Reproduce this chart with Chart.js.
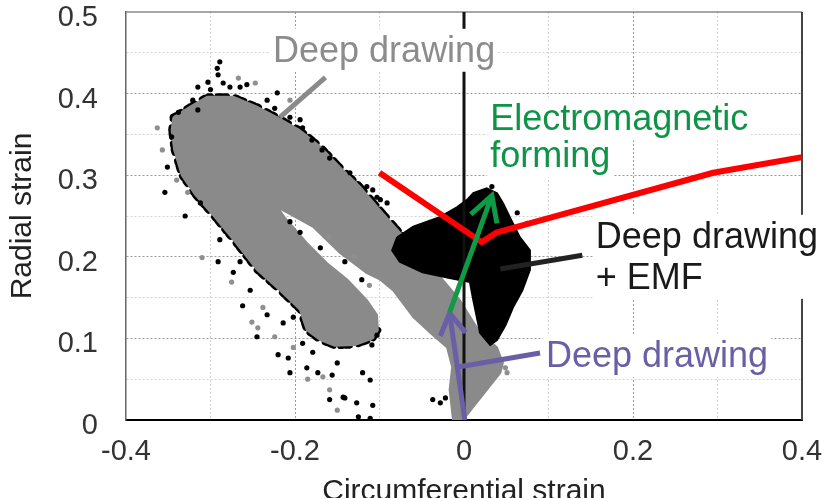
<!DOCTYPE html>
<html>
<head>
<meta charset="utf-8">
<script src="https://cdn.jsdelivr.net/npm/chart.js@4.4.1/dist/chart.umd.min.js"></script>
<style>
  html, body { margin: 0; padding: 0; background: #fff; }
  #wrap { width: 825px; height: 498px; }
</style>
</head>
<body>
<div id="wrap"><canvas id="chartStrain"></canvas></div>
<script>
// Radial vs circumferential strain: deep drawing (gray) and deep drawing + EMF (black)

// ticks
const xTickLabels = ['-0.4', '', '-0.2', '', '0', '', '0.2', '', '0.4'];
const yTickLabels = ['0', '', '0.1', '', '0.2', '', '0.3', '', '0.4', '', '0.5'];

// outline of the deep drawing point cloud (gray)
const grayCloudOutline = [
  [-0.344, 0.371], [-0.324, 0.384], [-0.304, 0.396], [-0.273, 0.396], [-0.245, 0.384],
  [-0.221, 0.371], [-0.194, 0.355], [-0.170, 0.335], [-0.147, 0.310], [-0.123, 0.286],
  [-0.099, 0.257], [-0.076, 0.230], [-0.040, 0.190], [-0.005, 0.147], [0.019, 0.107],
  [0.039, 0.089], [0.046, 0.070], [0.043, 0.058], [0.027, 0.037], [0.011, 0.016],
  [-0.001, 0.000], [-0.013, 0.000], [-0.017, 0.037], [-0.014, 0.065], [-0.020, 0.089],
  [-0.040, 0.107], [-0.060, 0.126], [-0.084, 0.159], [-0.099, 0.172], [-0.115, 0.180],
  [-0.147, 0.205], [-0.179, 0.237], [-0.221, 0.261], [-0.212, 0.248], [-0.186, 0.217],
  [-0.162, 0.192], [-0.138, 0.172], [-0.115, 0.147], [-0.103, 0.129], [-0.102, 0.110],
  [-0.108, 0.100], [-0.129, 0.092], [-0.153, 0.091], [-0.170, 0.098], [-0.186, 0.110],
  [-0.194, 0.135], [-0.218, 0.159], [-0.245, 0.184], [-0.273, 0.221], [-0.297, 0.251],
  [-0.318, 0.276], [-0.334, 0.300], [-0.343, 0.331], [-0.346, 0.355], [-0.344, 0.371]
];

// outline of the deep drawing + EMF cloud (black)
const emfCloudOutline = [
  [-0.079, 0.224], [-0.060, 0.237], [-0.028, 0.249], [-0.008, 0.261], [0.004, 0.270],
  [0.011, 0.278], [0.027, 0.284], [0.039, 0.278], [0.046, 0.266], [0.054, 0.249],
  [0.066, 0.224], [0.078, 0.208], [0.078, 0.184], [0.069, 0.159], [0.058, 0.138],
  [0.049, 0.116], [0.039, 0.098], [0.031, 0.092], [0.019, 0.107], [0.011, 0.147],
  [0.007, 0.169], [-0.017, 0.174], [-0.049, 0.181], [-0.076, 0.194], [-0.085, 0.208],
  [-0.079, 0.224]
];

// edges of the gray cloud where black points stick out from under it
const emfFringeUpper = grayCloudOutline.slice(0, 13);
const emfFringeLower = grayCloudOutline.slice(39, 55);

// scattered points around the clouds
const emfDots = [
  [-0.289, 0.439], [-0.292, 0.431], [-0.291, 0.423], [-0.303, 0.414], [-0.285, 0.413],
  [-0.315, 0.408], [-0.277, 0.408], [-0.265, 0.408], [-0.257, 0.411], [-0.221, 0.401],
  [-0.233, 0.392], [-0.321, 0.392], [-0.224, 0.382], [-0.338, 0.377], [-0.346, 0.347],
  [-0.351, 0.310], [-0.354, 0.279], [-0.194, 0.368], [-0.191, 0.358], [-0.168, 0.331],
  [-0.206, 0.371], [-0.312, 0.266], [-0.289, 0.221], [-0.291, 0.194], [-0.273, 0.181],
  [-0.253, 0.159], [-0.233, 0.129], [-0.245, 0.102], [-0.220, 0.080], [-0.208, 0.076],
  [-0.206, 0.058], [-0.186, 0.064], [-0.173, 0.058], [-0.159, 0.025], [-0.141, 0.027],
  [-0.156, 0.055], [-0.179, 0.083], [-0.191, 0.094], [-0.214, 0.119], [-0.202, 0.126],
  [-0.265, 0.194], [-0.125, 0.004], [-0.111, 0.002], [-0.127, 0.021], [-0.108, 0.018],
  [-0.143, 0.028], [-0.120, 0.058], [-0.111, 0.049], [-0.108, 0.282], [-0.103, 0.273],
  [-0.115, 0.286], [-0.091, 0.266], [-0.135, 0.303], [-0.099, 0.270], [0.033, 0.286],
  [0.063, 0.254], [0.075, 0.241], [-0.037, 0.025], [-0.028, 0.021], [-0.022, 0.027],
  [-0.194, 0.230], [-0.170, 0.211], [-0.141, 0.194], [-0.121, 0.172], [-0.206, 0.243],
  [-0.103, 0.104], [-0.109, 0.092], [-0.159, 0.321], [-0.180, 0.343], [-0.330, 0.250],
  [-0.262, 0.140], [-0.150, 0.070], [-0.315, 0.380], [-0.300, 0.405]
];
const grayDots = [
  [-0.363, 0.358], [-0.357, 0.331], [-0.247, 0.413], [-0.267, 0.419], [-0.327, 0.279],
  [-0.340, 0.294], [-0.310, 0.199], [-0.275, 0.169], [-0.251, 0.120], [-0.244, 0.113],
  [-0.238, 0.138], [-0.224, 0.102], [-0.202, 0.089], [-0.159, 0.037], [-0.167, 0.053],
  [0.051, 0.058], [0.049, 0.064], [-0.206, 0.392], [-0.160, 0.225], [-0.130, 0.200],
  [-0.112, 0.165], [-0.185, 0.050], [-0.150, 0.012]
];

// forming limit line (red)
const limitCurve = [[-0.100, 0.303], [0.021, 0.218], [0.039, 0.230], [0.295, 0.303], [0.400, 0.322]];

// x = 0 line
const zeroLine = [[0, 0], [0, 0.5]];

// annotation arrows and pointers
const emfArrow = [[-0.017, 0.132], [0.033, 0.275]];
const emfArrowHead = [[0.008, 0.252], [0.033, 0.275], [0.039, 0.241]];
const ddArrow = [[0.001, 0.000], [-0.017, 0.131]];
const ddArrowHead = [[-0.028, 0.103], [-0.017, 0.131], [0.002, 0.107]];
const ddPointer = [[-0.007, 0.065], [0.090, 0.082]];
const grayPointer = [[-0.164, 0.420], [-0.218, 0.371]];
const blackPointer = [[0.043, 0.185], [0.140, 0.202]];

const toXY = arr => arr.map(p => ({ x: p[0], y: p[1] }));

const GRAY = '#8a8a8a';
const FONT = "'Liberation Sans', Arial, sans-serif";

const annotations = [
  { lines: ['Deep drawing'], x: -0.226, y: 0.439, color: '#8c8c8c', gap: 0, box: 'block' },
  { lines: ['Electromagnetic', 'forming'], x: 0.031, y: 0.355, color: '#0f9447', gap: 37, box: 'line' },
  { lines: ['Deep drawing', '+ EMF'], x: 0.156, y: 0.211, color: '#1a1a1a', gap: 41, box: 'block' },
  { lines: ['Deep drawing'], x: 0.097, y: 0.065, color: '#6a5fa6', gap: 0, box: 'block' }
];

function lineSet(data, color, width, order, extra) {
  return Object.assign({
    type: 'line',
    data: toXY(data),
    borderColor: color,
    backgroundColor: color,
    borderWidth: width,
    pointRadius: 0,
    fill: false,
    tension: 0,
    order: order
  }, extra || {});
}

// marco superior y derecho del área de trazado
const framePlugin = {
  id: 'frame',
  beforeDatasetsDraw(chart) {
    const { ctx, chartArea: a } = chart;
    ctx.save();
    ctx.strokeStyle = '#8a8a8a';
    ctx.lineWidth = 1.5;
    ctx.beginPath();
    ctx.moveTo(a.left, a.top);
    ctx.lineTo(a.right, a.top);
    ctx.stroke();
    ctx.strokeStyle = '#444';
    ctx.lineWidth = 2;
    ctx.beginPath();
    ctx.moveTo(a.right, a.top);
    ctx.lineTo(a.right, a.bottom);
    ctx.stroke();
    ctx.restore();
  }
};

// textos de anotación con fondo blanco
const labelPlugin = {
  id: 'labels',
  afterDatasetsDraw(chart) {
    const { ctx, scales } = chart;
    ctx.save();
    ctx.font = '36px ' + FONT;
    ctx.textBaseline = 'alphabetic';
    ctx.textAlign = 'left';
    annotations.forEach(a => {
      const x0 = scales.x.getPixelForValue(a.x);
      const y0 = scales.y.getPixelForValue(a.y);
      const widths = a.lines.map(t => ctx.measureText(t).width);
      ctx.fillStyle = '#fff';
      if (a.box === 'block') {
        const w = Math.max(...widths);
        const h = 33 + 10 + a.gap * (a.lines.length - 1);
        ctx.fillRect(x0 - 3, y0 - 33, w + 6, h);
      } else {
        a.lines.forEach((t, i) => {
          ctx.fillRect(x0 - 3, y0 + i * a.gap - 33, widths[i] + 6, 43);
        });
      }
      ctx.fillStyle = a.color;
      a.lines.forEach((t, i) => ctx.fillText(t, x0, y0 + i * a.gap));
    });
    ctx.restore();
  }
};

const ctx = document.getElementById('chartStrain');

const fringeStyle = { borderDash: [3, 4, 2, 7, 4, 3, 2, 9], borderCapStyle: 'round' };

new Chart(ctx, {
  type: 'scatter',
  data: {
    datasets: [
      lineSet(emfFringeUpper, '#000', 7, 21, fringeStyle),
      lineSet(emfFringeLower, '#000', 7, 21, fringeStyle),
      lineSet(grayCloudOutline, GRAY, 2, 20, { fill: 'shape' }),
      {
        type: 'scatter', data: toXY(grayDots), order: 19,
        pointRadius: 2.6, pointBorderWidth: 0, pointBackgroundColor: '#8f8f8f'
      },
      {
        type: 'scatter', data: toXY(emfDots), order: 18,
        pointRadius: 2.6, pointBorderWidth: 0, pointBackgroundColor: '#000'
      },
      lineSet(emfCloudOutline, '#000', 2, 17, { fill: 'shape' }),
      lineSet(zeroLine, '#111', 3, 16),
      lineSet(limitCurve, '#ff0000', 6, 15, { borderJoinStyle: 'round' }),
      lineSet(grayPointer, '#8a8a8a', 5, 10),
      lineSet(blackPointer, '#222', 5, 10),
      lineSet(ddPointer, '#6a5fa6', 5, 10),
      lineSet(ddArrow, '#6a5fa6', 5, 6),
      lineSet(ddArrowHead, '#6a5fa6', 5, 6, { borderJoinStyle: 'miter' }),
      lineSet(emfArrow, '#0f9a45', 5, 5),
      lineSet(emfArrowHead, '#0f9a45', 5, 5, { borderJoinStyle: 'miter' })
    ]
  },
  options: {
    responsive: true,
    maintainAspectRatio: false,
    animation: false,
    events: [],
    layout: { padding: { top: 12, right: 23, left: 0, bottom: 0 } },
    plugins: {
      legend: { display: false },
      tooltip: { enabled: false }
    },
    scales: {
      x: {
        type: 'linear',
        min: -0.4,
        max: 0.4,
        afterFit: s => { s.height = 78; s.paddingLeft = 0; s.paddingRight = 0; },
        ticks: {
          stepSize: 0.1,
          autoSkip: false,
          maxRotation: 0,
          padding: 15,
          color: '#333',
          font: { family: FONT, size: 29 },
          callback: v => xTickLabels[Math.round((v + 0.4) / 0.1)]
        },
        grid: {
          drawTicks: false,
          lineWidth: 1,
          color: c => {
            if (!c.tick) return 'rgba(0,0,0,0)';
            const v = Math.round(c.tick.value * 100);
            if (v === -40 || v === 40 || v === 0) return 'rgba(0,0,0,0)';
            return v % 20 === 0 ? '#9a9a9a' : '#d2d2d2';
          }
        },
        border: { display: true, color: '#000', width: 2, dash: [2, 2] },
        title: {
          display: true,
          text: 'Circumferential strain',
          color: '#222',
          font: { family: FONT, size: 30 },
          padding: { top: 0, bottom: -12 }
        }
      },
      y: {
        type: 'linear',
        min: 0,
        max: 0.5,
        afterFit: s => { s.width = 126; s.paddingTop = 0; s.paddingBottom = 0; },
        ticks: {
          stepSize: 0.05,
          autoSkip: false,
          padding: 28,
          labelOffset: 6,
          color: '#333',
          font: { family: FONT, size: 29 },
          callback: v => yTickLabels[Math.round(v / 0.05)]
        },
        grid: {
          drawTicks: false,
          lineWidth: 1,
          color: c => {
            if (!c.tick) return 'rgba(0,0,0,0)';
            const v = Math.round(c.tick.value * 100);
            if (v === 0 || v === 50) return 'rgba(0,0,0,0)';
            return v % 10 === 0 ? '#9a9a9a' : '#d2d2d2';
          }
        },
        border: { display: true, color: '#666', width: 1.5, dash: [2, 2] },
        title: {
          display: true,
          text: 'Radial strain',
          color: '#222',
          font: { family: FONT, size: 30 },
          padding: { top: 5, bottom: 0 }
        }
      }
    }
  },
  plugins: [framePlugin, labelPlugin]
});
</script>
</body>
</html>
